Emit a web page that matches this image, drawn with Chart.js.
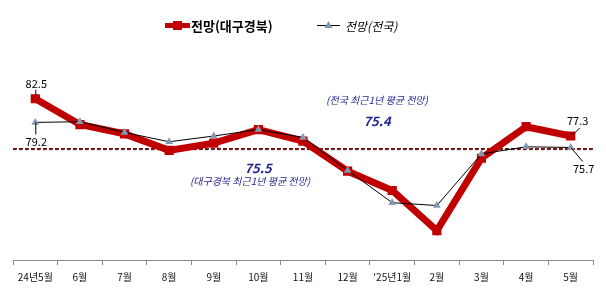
<!DOCTYPE html>
<html>
<head>
<meta charset="utf-8">
<script src="https://cdn.jsdelivr.net/npm/chart.js@4"></script>
<style>
html,body{margin:0;padding:0;background:#fff;}
#wrap{width:606px;height:294px;position:relative;}
</style>
</head>
<body>
<div id="wrap"><canvas id="c" width="606" height="294"></canvas></div>
<script>
const categories = ["24년5월","6월","7월","8월","9월","10월","11월","12월","'25년1월","2월","3월","4월","5월"];
const daeguValues = [82.5,78.9,77.6,75.3,76.3,78.2,76.6,72.4,69.7,64.1,74.2,78.6,77.3];
const nationalValues = [79.2,79.3,77.8,76.5,77.3,78.2,77.1,72.5,68.0,67.6,74.8,75.8,75.7];
const seriesNames = ["전망(대구경북)","전망(전국)"];
const avgNational = 75.4;
const avgDaegu = 75.5;
const avgNationalText = "(전국 최근1년 평균 전망)";
const avgDaeguText = "(대구경북 최근1년 평균 전망)";

const FONT = "'Noto Sans CJK KR','Noto Sans',sans-serif";
const BLUE = "#1f1f8f";

const overlay = {
  id:'overlay',
  beforeDatasetsDraw(chart){
    const {ctx, chartArea:a, scales:{y}} = chart;
    ctx.save();
    let yy = y.getPixelForValue(avgNational);
    ctx.strokeStyle = '#222'; ctx.lineWidth = 1; ctx.setLineDash([3,3]);
    ctx.beginPath(); ctx.moveTo(a.left, yy); ctx.lineTo(a.right, yy); ctx.stroke();
    yy = y.getPixelForValue(avgDaegu);
    ctx.strokeStyle = '#7a1010'; ctx.lineWidth = 1.6; ctx.setLineDash([4,2]);
    ctx.beginPath(); ctx.moveTo(a.left, yy); ctx.lineTo(a.right, yy); ctx.stroke();
    ctx.restore();
  },
  afterDatasetsDraw(chart){
    const {ctx, scales:{x,y}} = chart;
    ctx.save();
    // legend
    ctx.strokeStyle = '#c00000'; ctx.lineWidth = 5;
    ctx.beginPath(); ctx.moveTo(165,25.5); ctx.lineTo(190,25.5); ctx.stroke();
    ctx.fillStyle = '#c00000'; ctx.fillRect(173,21,9,9);
    ctx.fillStyle = '#000'; ctx.font = "bold 13px " + FONT; ctx.textBaseline='middle'; ctx.textAlign='left';
    ctx.fillText(seriesNames[0], 191, 26);
    ctx.strokeStyle = '#000'; ctx.lineWidth = 1;
    ctx.beginPath(); ctx.moveTo(317,25.5); ctx.lineTo(340,25.5); ctx.stroke();
    ctx.fillStyle = '#8497b0';
    ctx.beginPath(); ctx.moveTo(328.5,21); ctx.lineTo(332.5,28); ctx.lineTo(324.5,28); ctx.closePath(); ctx.fill();
    ctx.fillStyle = '#000'; ctx.font = "italic 12px " + FONT;
    ctx.fillText(seriesNames[1], 345, 26);

    // averages annotations
    ctx.textAlign='center';
    ctx.fillStyle = BLUE;
    ctx.font = "italic 10px " + FONT;
    ctx.fillText(avgNationalText, 377, 100);
    ctx.font = "italic bold 13px " + FONT;
    ctx.fillText(avgNational.toFixed(1), 377, 121);
    ctx.fillText(avgDaegu.toFixed(1), 258, 168);
    ctx.font = "italic 10px " + FONT;
    ctx.fillText(avgDaeguText, 250, 181);

    // data labels
    ctx.fillStyle = '#000'; ctx.strokeStyle = '#000'; ctx.lineWidth = 1;
    ctx.font = "11px " + FONT;
    const n = categories.length - 1;
    let px = x.getPixelForValue(0), py = y.getPixelForValue(daeguValues[0]);
    ctx.fillText(daeguValues[0].toFixed(1), px+1, py-15);
    ctx.beginPath(); ctx.moveTo(px+0.5, py-9); ctx.lineTo(px+0.5, py-4); ctx.stroke();
    py = y.getPixelForValue(nationalValues[0]);
    ctx.fillText(nationalValues[0].toFixed(1), px+1, py+19);
    ctx.beginPath(); ctx.moveTo(px+0.5, py); ctx.lineTo(px+0.5, py+12); ctx.stroke();
    px = x.getPixelForValue(n); py = y.getPixelForValue(daeguValues[n]);
    ctx.fillText(daeguValues[n].toFixed(1), px+7, py-15);
    ctx.beginPath(); ctx.moveTo(px+9, py-8); ctx.lineTo(px+2, py-1); ctx.stroke();
    py = y.getPixelForValue(nationalValues[n]);
    ctx.fillText(nationalValues[n].toFixed(1), px+13, py+21);
    ctx.beginPath(); ctx.moveTo(px+1, py+1); ctx.lineTo(px+12, py+14); ctx.stroke();
    ctx.restore();
  }
};

new Chart(document.getElementById('c'), {
  type:'line',
  data:{
    labels: categories,
    datasets:[
      {label: seriesNames[0], data: daeguValues, borderColor:'#c00000', backgroundColor:'#c00000',
       borderWidth:7, pointStyle:'rect', pointRadius:6.5, pointBorderWidth:0, pointBackgroundColor:'#c00000',
       tension:0, order:2, borderJoinStyle:'miter'},
      {label: seriesNames[1], data: nationalValues, borderColor:'#000', backgroundColor:'#8497b0',
       borderWidth:1, pointStyle:'triangle', pointRadius:4.5, pointBorderWidth:0, pointBackgroundColor:'#8497b0',
       tension:0, order:1}
    ]
  },
  options:{
    responsive:false, animation:false, devicePixelRatio:1,
    layout:{padding:{left:13,right:13,top:45,bottom:0}},
    plugins:{legend:{display:false}, tooltip:{enabled:false}},
    scales:{
      x:{offset:true,
         grid:{offset:true, drawOnChartArea:false, tickLength:5, color:'#888'},
         border:{display:true, color:'#888'},
         ticks:{color:'#111', font:{family:FONT, size:10}, padding:6, maxRotation:0, autoSkip:false},
         afterFit(s){ s.height = 34; }
      },
      y:{display:false, min:60, max:90}
    }
  },
  plugins:[overlay]
});
</script>
</body>
</html>
